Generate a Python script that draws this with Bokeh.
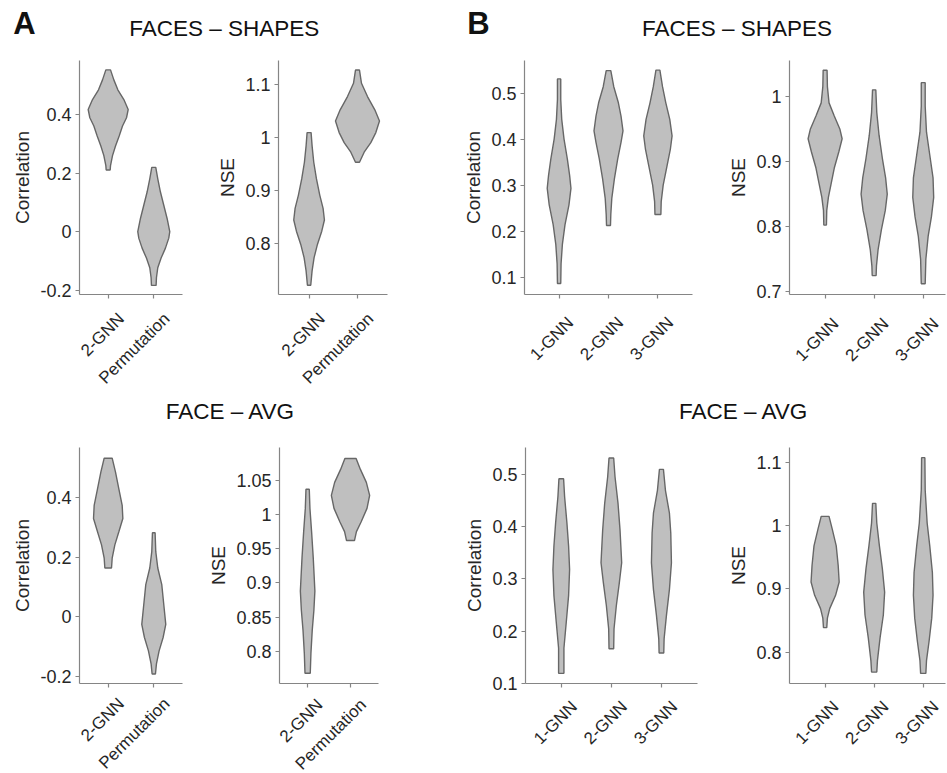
import math
from bokeh.plotting import figure
from bokeh.layouts import column, row
from bokeh.models import Range1d, FixedTicker, PrintfTickFormatter, Label
from bokeh.core.properties import value
from bokeh.embed import file_html
from bokeh.resources import INLINE

# ---------------- data ----------------
GROUPS_A = ["2-GNN", "Permutation"]
GROUPS_B = ["1-GNN", "2-GNN", "3-GNN"]

PANEL_LETTERS = ["A", "B"]
CONTRAST_TITLES = ["FACES \u2013 SHAPES", "FACE \u2013 AVG"]
METRICS = ["Correlation", "NSE"]

# violin outlines: values (top -> bottom) and relative density (half width)
# Panel A, FACES - SHAPES, Correlation
A_FS_CORR_Y = [
    [0.552, 0.518, 0.484, 0.451, 0.417, 0.389, 0.361, 0.327, 0.293, 0.260, 0.226, 0.211],
    [0.220, 0.181, 0.136, 0.091, 0.046, 0.001, -0.021, -0.055, -0.089, -0.122, -0.156, -0.182],
]
A_FS_CORR_D = [
    [7, 17, 29, 47, 60, 55, 43, 33, 22, 13, 7, 6],
    [6, 12, 20, 30, 40, 48, 45, 35, 22, 12, 8, 7],
]
# Panel A, FACES - SHAPES, NSE
A_FS_NSE_Y = [
    [1.010, 0.985, 0.954, 0.923, 0.892, 0.867, 0.845, 0.824, 0.799, 0.774, 0.749, 0.722],
    [1.128, 1.103, 1.078, 1.053, 1.032, 1.010, 0.991, 0.973, 0.954],
]
A_FS_NSE_D = [
    [6, 9, 14, 22, 32, 42, 46, 38, 25, 15, 9, 5],
    [6, 12, 30, 52, 66, 55, 40, 20, 6],
]
# Panel A, FACE - AVG, Correlation
A_FA_CORR_Y = [
    [0.534, 0.487, 0.431, 0.375, 0.331, 0.286, 0.242, 0.197, 0.164],
    [0.283, 0.219, 0.164, 0.108, 0.041, -0.026, -0.070, -0.115, -0.159, -0.193],
]
A_FA_CORR_D = [
    [12, 22, 32, 42, 44, 32, 20, 12, 10],
    [4, 6, 12, 24, 30, 36, 28, 16, 8, 5],
]
# Panel A, FACE - AVG, NSE
A_FA_NSE_Y = [
    [1.037, 1.009, 0.975, 0.937, 0.908, 0.888, 0.860, 0.831, 0.797, 0.768],
    [1.082, 1.066, 1.047, 1.028, 1.009, 0.989, 0.975, 0.962],
]
A_FA_NSE_D = [
    [5, 7, 12, 17, 20, 22, 19, 14, 10, 8],
    [17, 30, 48, 58, 50, 32, 18, 12],
]
# Panel B, FACES - SHAPES, Correlation
B_FS_CORR_Y = [
    [0.531, 0.486, 0.443, 0.400, 0.357, 0.321, 0.293, 0.257, 0.214, 0.171, 0.129, 0.086],
    [0.549, 0.514, 0.479, 0.450, 0.418, 0.393, 0.357, 0.314, 0.271, 0.236, 0.212],
    [0.550, 0.514, 0.479, 0.443, 0.407, 0.379, 0.343, 0.300, 0.264, 0.236],
]
B_FS_CORR_D = [
    [5, 5, 8, 15, 25, 32, 36, 30, 18, 10, 6, 5],
    [7, 16, 30, 38, 44, 38, 28, 18, 10, 7, 6],
    [6, 14, 24, 36, 43, 38, 28, 16, 10, 9],
]
# Panel B, FACES - SHAPES, NSE
B_FS_NSE_Y = [
    [1.040, 1.015, 0.990, 0.970, 0.950, 0.935, 0.915, 0.890, 0.865, 0.845, 0.825, 0.8025],
    [1.010, 0.975, 0.940, 0.905, 0.875, 0.850, 0.825, 0.795, 0.765, 0.740, 0.725],
    [1.021, 0.985, 0.945, 0.910, 0.875, 0.845, 0.815, 0.785, 0.750, 0.7125],
]
B_FS_NSE_D = [
    [6, 7, 12, 28, 45, 52, 42, 28, 18, 10, 5, 4],
    [5, 8, 15, 25, 35, 40, 34, 22, 12, 7, 6],
    [6, 6, 10, 20, 30, 32, 25, 15, 8, 6],
]
# Panel B, FACE - AVG, Correlation
B_FA_CORR_Y = [
    [0.492, 0.458, 0.407, 0.363, 0.318, 0.268, 0.217, 0.167, 0.119],
    [0.532, 0.496, 0.445, 0.394, 0.344, 0.331, 0.293, 0.249, 0.204, 0.166],
    [0.510, 0.470, 0.426, 0.388, 0.331, 0.280, 0.230, 0.185, 0.158],
]
B_FA_CORR_D = [
    [7, 10, 17, 22, 25, 22, 15, 8, 8],
    [7, 11, 20, 26, 30, 31, 24, 15, 8, 7],
    [6, 12, 24, 28, 30, 24, 15, 8, 7],
]
# Panel B, FACE - AVG, NSE
B_FA_NSE_Y = [
    [1.0145, 0.994, 0.968, 0.937, 0.911, 0.890, 0.869, 0.854, 0.839],
    [1.035, 1.004, 0.968, 0.932, 0.895, 0.859, 0.823, 0.787, 0.769],
    [1.107, 1.056, 1.004, 0.968, 0.926, 0.890, 0.854, 0.818, 0.787, 0.767],
]
B_FA_NSE_D = [
    [12, 22, 34, 40, 43, 32, 14, 7, 5],
    [5, 8, 16, 25, 32, 28, 18, 10, 8],
    [5, 6, 12, 20, 28, 30, 26, 18, 10, 8],
]

# y tick values
TICKS_A_CORR = [-0.2, 0, 0.2, 0.4]
TICKS_A_FS_NSE = [0.8, 0.9, 1, 1.1]
TICKS_A_FA_NSE = [0.8, 0.85, 0.9, 0.95, 1, 1.05]
TICKS_B_CORR = [0.1, 0.2, 0.3, 0.4, 0.5]
TICKS_B_FS_NSE = [0.7, 0.8, 0.9, 1]
TICKS_B_FA_NSE = [0.8, 0.9, 1, 1.1]

# ---------------- style ----------------
FONT = "Liberation Sans"
TEXT = "#262626"
AXIS = "#858585"
FILL = "#bfbfbf"
EDGE = "#676767"
YTICK_FS = "18px"
XTICK_FS = "17px"
LABEL_FS = "19px"
TITLE_FS = "22.5px"
LETTER_FS = "31px"
LABEL_DX = 13      # px, rotated category label end to the right of its tick


def violin_panel(cats, ys_list, ds_list, ticks, ylabel, xr, yr, w, h, left, right, top, bottom, label_dy):
    frame_w = w - left - right
    p = figure(width=w, height=h, x_range=Range1d(*xr), y_range=Range1d(*yr),
               output_backend="svg", toolbar_location=None,
               min_border_left=left, min_border_right=right,
               min_border_top=top, min_border_bottom=bottom)
    ppu = frame_w / (xr[1] - xr[0])
    scale = 1.0 / (3.0 * ppu)
    xs, yss = [], []
    for i, (yv, dv) in enumerate(zip(ys_list, ds_list)):
        c = i + 1
        hw = [d * scale for d in dv]
        xs.append([c + v for v in hw] + [c - v for v in reversed(hw)])
        yss.append(list(yv) + list(reversed(yv)))
    p.patches(xs, yss, fill_color=FILL, line_color=EDGE, line_width=1.4)

    p.xgrid.grid_line_color = None
    p.ygrid.grid_line_color = None
    p.outline_line_color = None
    p.background_fill_color = "white"
    p.border_fill_color = "white"
    for ax in (p.xaxis[0], p.yaxis[0]):
        ax.axis_line_color = AXIS
        ax.axis_line_width = 1.2
        ax.major_tick_line_color = AXIS
        ax.major_tick_line_width = 1.2
        ax.major_tick_out = 4
        ax.major_tick_in = 0
        ax.minor_tick_line_color = None
        ax.major_label_text_font = FONT
        ax.major_label_text_font_size = YTICK_FS
        ax.major_label_text_color = TEXT
        ax.major_label_standoff = 4
    pos = list(range(1, len(cats) + 1))
    p.xaxis.ticker = FixedTicker(ticks=pos)
    # category names are drawn rotated in the strip below the axis
    p.xaxis.major_label_overrides = {k: "" for k in pos}
    p.xaxis.major_label_text_font_size = "1px"
    p.xaxis.major_label_text_color = None
    p.xaxis.major_label_standoff = 0
    p.yaxis.ticker = FixedTicker(ticks=ticks)
    p.yaxis.formatter = PrintfTickFormatter(format="%g")
    p.yaxis.axis_label = ylabel
    p.yaxis.axis_label_text_font = FONT
    p.yaxis.axis_label_text_font_size = LABEL_FS
    p.yaxis.axis_label_text_font_style = "normal"
    p.yaxis.axis_label_text_color = TEXT
    p.yaxis.axis_label_standoff = 4

    # strip under the panel that carries the rotated category names,
    # on the same category scale as the panel (extended over its borders)
    def strip(sh):
        sx0 = xr[0] - left / ppu
        sx1 = xr[1] + right / ppu
        s = figure(width=w, height=sh, x_range=Range1d(sx0, sx1), y_range=Range1d(sh, 0),
                   output_backend="svg", toolbar_location=None,
                   x_axis_type=None, y_axis_type=None, min_border=0)
        s.outline_line_color = None
        s.xgrid.grid_line_color = None
        s.ygrid.grid_line_color = None
        s.text(x=pos, y=[label_dy - bottom] * len(pos), text=list(cats),
               angle=math.pi / 4, x_offset=LABEL_DX,
               text_align="right", text_baseline="middle",
               text_font=value(FONT), text_font_size=value(XTICK_FS), text_color=TEXT)
        return s

    return p, strip


def header(w, h, items):
    p = figure(width=w, height=h, x_range=Range1d(0, w), y_range=Range1d(h, 0),
               output_backend="svg", toolbar_location=None,
               x_axis_type=None, y_axis_type=None, min_border=0)
    p.outline_line_color = None
    p.xgrid.grid_line_color = None
    p.ygrid.grid_line_color = None
    for (x, y, txt, size, style, align) in items:
        p.add_layout(Label(x=x, y=y, text=txt, text_font=FONT, text_font_size=size,
                           text_font_style=style, text_color="#111111",
                           text_align=align, text_baseline="middle"))
    return p


h1 = header(947, 44, [
    (12.7, 23, PANEL_LETTERS[0], LETTER_FS, "bold", "left"),
    (223.7, 28, CONTRAST_TITLES[0], TITLE_FS, "normal", "center"),
    (466.7, 23, PANEL_LETTERS[1], LETTER_FS, "bold", "left"),
    (736.5, 28, CONTRAST_TITLES[0], TITLE_FS, "normal", "center"),
])
h2 = header(947, 40, [
    (230, 15.8, CONTRAST_TITLES[1], TITLE_FS, "normal", "center"),
    (743.3, 15.8, CONTRAST_TITLES[1], TITLE_FS, "normal", "center"),
])

# top row: panels 262 px tall, label strip 89 px
f1, s1 = violin_panel(GROUPS_A, A_FS_CORR_Y, A_FS_CORR_D, TICKS_A_CORR, METRICS[0],
                      (0.371, 2.630), (-0.213, 0.584), 205, 262, 79, 23, 13, 12, 21.5)
f2, s2 = violin_panel(GROUPS_A, A_FS_NSE_Y, A_FS_NSE_D, TICKS_A_FS_NSE, METRICS[1],
                      (0.368, 2.620), (0.7045, 1.146), 255, 262, 73, 73, 13, 12, 21.5)
f5, s5 = violin_panel(GROUPS_B, B_FS_CORR_Y, B_FS_CORR_D, TICKS_B_CORR, METRICS[0],
                      (0.3, 3.7), (0.062, 0.571), 265, 262, 62, 33, 16, 8, 21.5)
f6, s6 = violin_panel(GROUPS_B, B_FS_NSE_Y, B_FS_NSE_D, TICKS_B_FS_NSE, METRICS[1],
                      (0.274, 3.454), (0.696, 1.055), 222, 262, 61, 2, 16, 7, 21.5)

# bottom row: panels 258 px tall, label strip 80 px
f3, s3 = violin_panel(GROUPS_A, A_FA_CORR_Y, A_FA_CORR_D, TICKS_A_CORR, METRICS[0],
                      (0.371, 2.630), (-0.225, 0.570), 205, 258, 79, 23, 10, 10, 17.5)
f4, s4 = violin_panel(GROUPS_A, A_FA_NSE_Y, A_FA_NSE_D, TICKS_A_FA_NSE, METRICS[1],
                      (0.344, 2.653), (0.753, 1.098), 255, 258, 73, 82, 10, 9, 17.5)
f7, s7 = violin_panel(GROUPS_B, B_FA_CORR_Y, B_FA_CORR_D, TICKS_B_CORR, METRICS[0],
                      (0.286, 3.72), (0.0995, 0.552), 265, 258, 65, 28, 12, 7, 17.5)
f8, s8 = violin_panel(GROUPS_B, B_FA_NSE_Y, B_FA_NSE_D, TICKS_B_FA_NSE, METRICS[1],
                      (0.274, 3.454), (0.751, 1.123), 222, 258, 61, 2, 12, 7, 17.5)

p = column(
    h1,
    row(f1, f2, f5, f6),
    row(s1(89), s2(89), s5(89), s6(89)),
    h2,
    row(f3, f4, f7, f8),
    row(s3(80), s4(80), s7(80), s8(80)),
)

open("out.html", "w").write(file_html(p, INLINE))
